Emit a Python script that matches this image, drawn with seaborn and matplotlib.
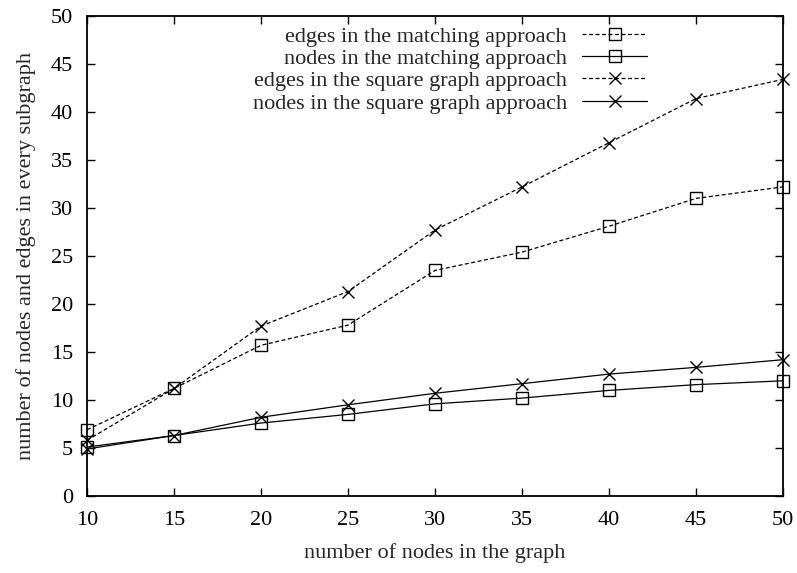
import matplotlib
matplotlib.use("Agg")
import matplotlib.pyplot as plt
import seaborn as sns
import pandas as pd

# Graph sizes (number of nodes)
graph_nodes = [10, 15, 20, 25, 30, 35, 40, 45, 50]

# Average subgraph size per approach
edges_matching = [6.9, 11.2, 15.7, 17.8, 23.5, 25.4, 28.1, 31.0, 32.2]
nodes_matching = [5.1, 6.3, 7.6, 8.5, 9.6, 10.2, 11.0, 11.6, 12.0]
edges_square = [5.8, 11.2, 17.7, 21.3, 27.7, 32.2, 36.8, 41.4, 43.4]
nodes_square = [4.9, 6.3, 8.2, 9.5, 10.7, 11.7, 12.7, 13.4, 14.2]

series_labels = [
    "edges in the matching approach",
    "nodes in the matching approach",
    "edges in the square graph approach",
    "nodes in the square graph approach",
]
series_values = [edges_matching, nodes_matching, edges_square, nodes_square]

x_ticks = [10, 15, 20, 25, 30, 35, 40, 45, 50]
y_ticks = [0, 5, 10, 15, 20, 25, 30, 35, 40, 45, 50]

df = pd.concat(
    [pd.DataFrame({"n": graph_nodes, "value": vals, "series": lab})
     for lab, vals in zip(series_labels, series_values)],
    ignore_index=True,
)

sns.set_theme(style="ticks")
plt.rcParams["font.family"] = ["Liberation Serif", "DejaVu Serif"]
FS = 16
plt.rcParams["font.size"] = FS

fig = plt.figure(figsize=(7.97, 5.73), dpi=100)
ax = fig.add_axes([87 / 797, 1 - 496 / 573, 696 / 797, 480 / 573])

dash = (0, (3.2, 2.0))
styles = {
    series_labels[0]: dict(marker="s", ls=dash),
    series_labels[1]: dict(marker="s", ls="-"),
    series_labels[2]: dict(marker="x", ls=dash),
    series_labels[3]: dict(marker="x", ls="-"),
}

for lab in series_labels:
    sub = df[df["series"] == lab]
    st = styles[lab]
    sns.lineplot(
        data=sub, x="n", y="value", ax=ax, color="black", lw=0.9,
        linestyle=st["ls"], marker=st["marker"], markersize=8.5,
        markerfacecolor="none", markeredgecolor="black", markeredgewidth=1.0,
        label=lab, clip_on=False,
    )

ax.set_xlim(10, 50)
ax.set_ylim(0, 50)
ax.set_xticks(x_ticks)
ax.set_yticks(y_ticks)
ax.tick_params(direction="in", length=6, width=1, top=True, right=True,
               labelsize=FS, colors="black")
ax.tick_params(axis="x", pad=11)
ax.tick_params(axis="y", pad=10)
for sp in ax.spines.values():
    sp.set_visible(True)
    sp.set_linewidth(1.3)
    sp.set_color("black")

ax.set_xlabel("number of nodes in the graph", fontsize=FS, labelpad=9)
ax.set_ylabel("number of nodes and edges in every subgraph", fontsize=FS, labelpad=11)

leg = ax.legend(
    loc="upper right", bbox_to_anchor=((647.3 - 87) / 696, (496 - 26) / 480),
    frameon=False, markerfirst=False, borderpad=0, borderaxespad=0,
    handlelength=2.95, handletextpad=0.67, labelspacing=0.08, fontsize=FS,
)

fig.savefig("out.png", dpi=100, facecolor="white")
